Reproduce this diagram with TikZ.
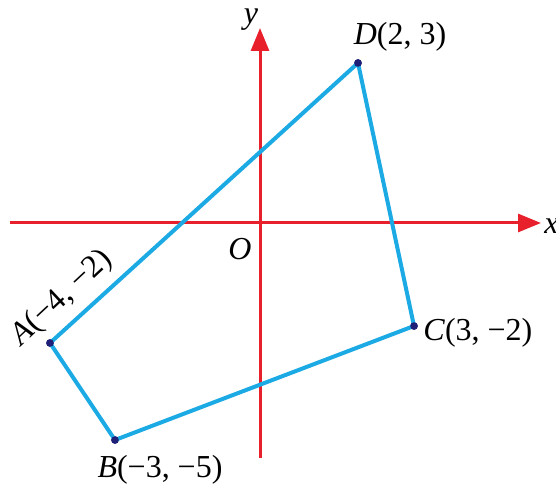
\documentclass[tikz,border=0pt]{standalone}
\usepackage{fontspec}
\setmainfont{Liberation Serif}
\usetikzlibrary{arrows.meta}
\definecolor{axisred}{RGB}{232,32,44}
\definecolor{segblue}{RGB}{28,170,228}
\definecolor{dotnavy}{RGB}{30,32,120}
\tikzset{
  axis/.style={draw=axisred, line width=1.5pt, -{Triangle[length=11.5pt,width=9pt]}},
  seg/.style={draw=segblue, line width=2pt, line join=round},
  vdot/.style={circle, fill=dotnavy, inner sep=0pt, minimum size=3.8pt},
  lab/.style={inner sep=0pt, font=\fontsize{16}{18}\selectfont}
}
\begin{document}
\begin{tikzpicture}[x=0.5pt,y=-0.5pt]
\useasboundingbox (0,0) rectangle (556,490);
% axes
\coordinate (xl) at (10,223);
\coordinate (xr) at (541,223);
\coordinate (yb) at (260,458);
\coordinate (yt) at (260,28);
\draw[axis] (xl) -- (xr);
\draw[axis] (yb) -- (yt);
% vertices
\node[vdot] (A) at (50,343) {};
\node[vdot] (B) at (115,440) {};
\node[vdot] (C) at (414,326) {};
\node[vdot] (D) at (358,63) {};
\draw[seg] (A.center) -- (D.center) -- (C.center) -- (B.center) -- cycle;
\node[vdot] at (A) {};
\node[vdot] at (B) {};
\node[vdot] at (C) {};
\node[vdot] at (D) {};
% labels
\node[lab] (ylab) at (251,20) {\textit{y}};
\node[lab, anchor=west] (xlab) at (544,226) {\textit{x}};
\node[lab] (olab) at (240,249) {\textit{O}};
\node[lab] (dlab) at (400,37) {\textit{D}(2, 3)};
\node[lab, anchor=west] (clab) at (423,333) {\textit{C}(3, −2)};
\node[lab] (blab) at (160,470) {\textit{B}(−3, −5)};
\node[lab, rotate=43] (alab) at (62,298) {\textit{A}(−4, −2)};
\end{tikzpicture}
\end{document}
